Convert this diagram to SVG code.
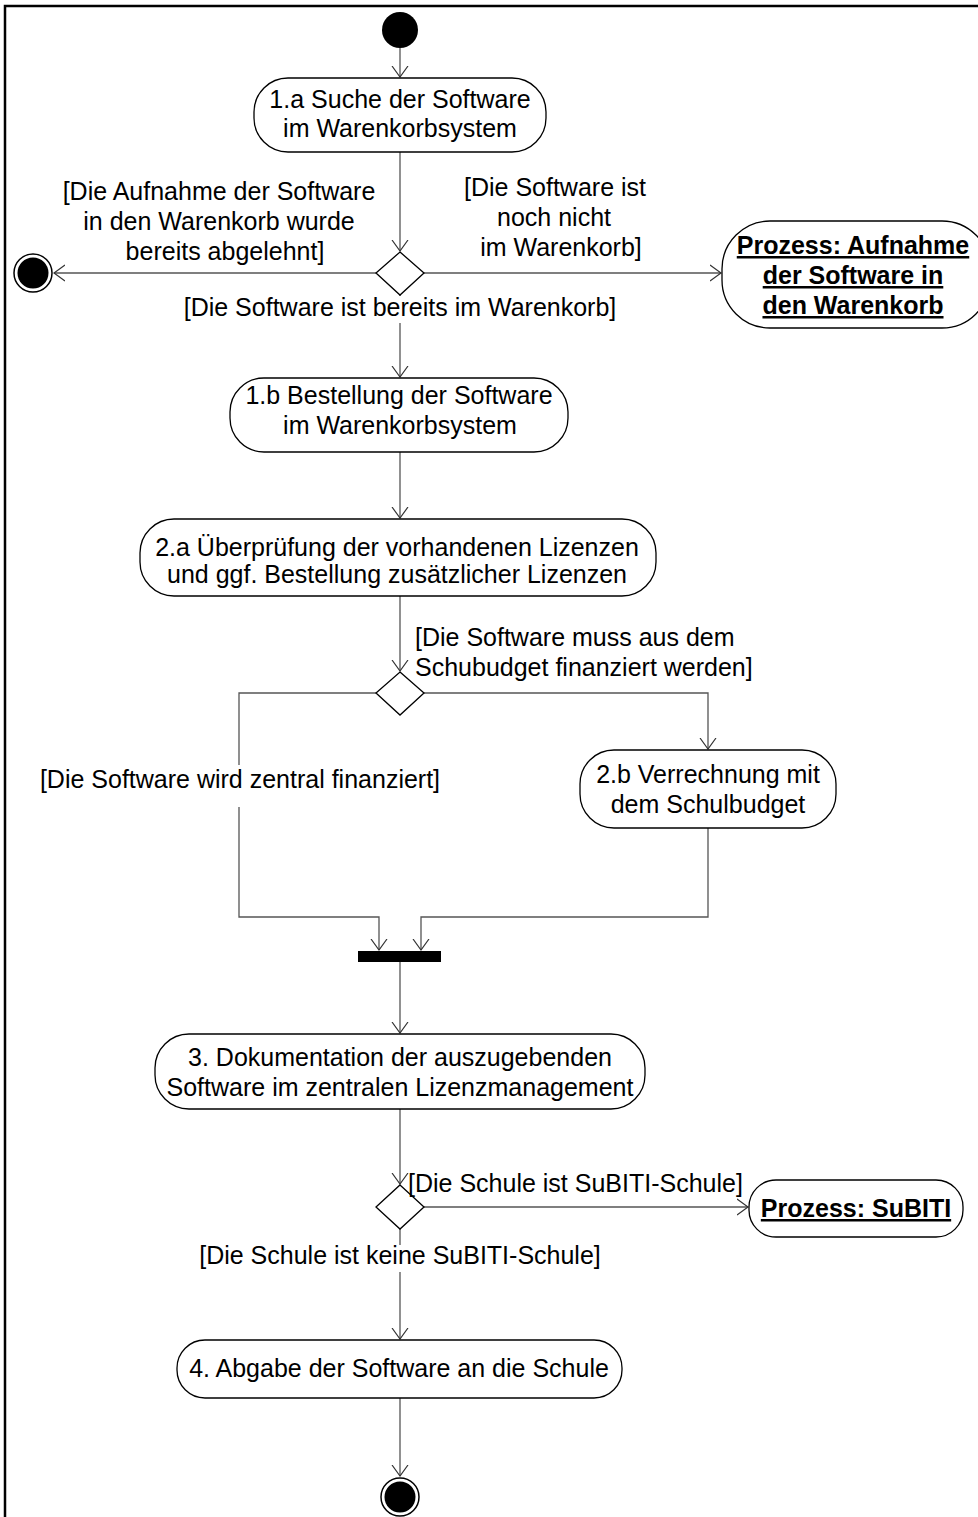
<svg xmlns="http://www.w3.org/2000/svg" width="978" height="1517" viewBox="0 0 978 1517">
<defs>
<marker id="arr" markerWidth="12" markerHeight="18" refX="11" refY="9" orient="auto" markerUnits="userSpaceOnUse">
<path d="M0,1 L11,9 L0,17" fill="none" stroke="#333" stroke-width="1.2"/>
</marker>
<style>
.t{font-family:"Liberation Sans",Arial,sans-serif;font-size:25px;fill:#000;text-anchor:middle}
.l{text-anchor:start}
.b{font-weight:bold;text-decoration:underline}
.n{fill:#fff;stroke:#000;stroke-width:1.3}
.bg{fill:#fff}
.c{fill:none;stroke:#555;stroke-width:1.3}
.ca{fill:none;stroke:#555;stroke-width:1.3;marker-end:url(#arr)}
</style>
</defs>
<rect width="978" height="1517" fill="#fff"/>
<path d="M5,1517 V6 H978" fill="none" stroke="#000" stroke-width="2.5"/>

<g id="connectors">
<line class="ca" x1="400" y1="48" x2="400" y2="77"/>
<line class="ca" x1="400" y1="152" x2="400" y2="251"/>
<line class="ca" x1="376" y1="273" x2="54" y2="273"/>
<line class="ca" x1="424" y1="273" x2="721" y2="273"/>
<line class="ca" x1="400" y1="295" x2="400" y2="377"/>
<line class="ca" x1="400" y1="452" x2="400" y2="518"/>
<line class="ca" x1="400" y1="596" x2="400" y2="671"/>
<polyline class="ca" points="376,693 239,693 239,917 379,917 379,950"/>
<polyline class="ca" points="424,693 708,693 708,749"/>
<polyline class="ca" points="708,828 708,917 421,917 421,950"/>
<line class="ca" x1="400" y1="962" x2="400" y2="1033"/>
<line class="ca" x1="400" y1="1109" x2="400" y2="1184"/>
<line class="ca" x1="424" y1="1207" x2="748" y2="1207"/>
<line class="ca" x1="400" y1="1229" x2="400" y2="1339"/>
<line class="ca" x1="400" y1="1398" x2="400" y2="1476"/>
</g>

<g id="start"><circle cx="400" cy="30" r="18" fill="#000"/></g>

<g id="n1a">
<rect class="n" x="254" y="78" width="292" height="74" rx="34"/>
<text class="t" x="400" y="108">1.a Suche der Software</text>
<text class="t" x="400" y="137">im Warenkorbsystem</text>
</g>

<g id="d1"><polygon class="n" points="400,252 424,273 400,295 376,273"/></g>

<g id="end1">
<circle cx="33" cy="273" r="19" fill="#fff" stroke="#000" stroke-width="1.5"/>
<circle cx="33" cy="273" r="15.5" fill="#000"/>
</g>

<g id="labels1">
<text class="t" x="219" y="200">[Die Aufnahme der Software</text>
<text class="t" x="219" y="230">in den Warenkorb wurde</text>
<text class="t" x="225" y="260">bereits abgelehnt]</text>
<text class="t" x="555" y="196">[Die Software ist</text>
<text class="t" x="554" y="226">noch nicht</text>
<text class="t" x="561" y="256">im Warenkorb]</text>
<rect class="bg" x="185" y="296" width="430" height="27"/>
<text class="t" x="400" y="316">[Die Software ist bereits im Warenkorb]</text>
</g>

<g id="pAufnahme">
<rect class="n" x="722" y="221" width="268" height="107" rx="48"/>
<text class="t b" x="853" y="254">Prozess: Aufnahme</text>
<text class="t b" x="853" y="284">der Software in</text>
<text class="t b" x="853" y="314">den Warenkorb</text>
</g>

<g id="n1b">
<rect class="n" x="230" y="378" width="338" height="74" rx="34"/>
<text class="t" x="399" y="404">1.b Bestellung der Software</text>
<text class="t" x="400" y="434">im Warenkorbsystem</text>
</g>

<g id="n2a">
<rect class="n" x="140" y="519" width="516" height="77" rx="34"/>
<text class="t" x="397" y="556">2.a Überprüfung der vorhandenen Lizenzen</text>
<text class="t" x="397" y="583">und ggf. Bestellung zusätzlicher Lizenzen</text>
</g>

<g id="d2"><polygon class="n" points="400,672 424,693 400,715 376,693"/></g>

<g id="labels2">
<text class="t l" x="415" y="646">[Die Software muss aus dem</text>
<text class="t l" x="415" y="676">Schubudget finanziert werden]</text>
<rect class="bg" x="38" y="765" width="404" height="42"/>
<text class="t" x="240" y="788">[Die Software wird zentral finanziert]</text>
</g>

<g id="n2b">
<rect class="n" x="580" y="750" width="256" height="78" rx="34"/>
<text class="t" x="708" y="783">2.b Verrechnung mit</text>
<text class="t" x="708" y="813">dem Schulbudget</text>
</g>

<g id="join"><rect x="358" y="951" width="83" height="11" fill="#000"/></g>

<g id="n3">
<rect class="n" x="155" y="1034" width="490" height="75" rx="34"/>
<text class="t" x="400" y="1066">3. Dokumentation der auszugebenden</text>
<text class="t" x="400" y="1096">Software im zentralen Lizenzmanagement</text>
</g>

<g id="d3"><polygon class="n" points="400,1185 424,1207 400,1229 376,1207"/></g>

<g id="labels3">
<text class="t l" x="408" y="1192">[Die Schule ist SuBITI-Schule]</text>
<rect class="bg" x="198" y="1245" width="404" height="27"/>
<text class="t" x="400" y="1264">[Die Schule ist keine SuBITI-Schule]</text>
</g>

<g id="pSubiti">
<rect class="n" x="749" y="1180" width="214" height="57" rx="27"/>
<text class="t b" x="856" y="1217">Prozess: SuBITI</text>
</g>

<g id="n4">
<rect class="n" x="177" y="1340" width="445" height="58" rx="28"/>
<text class="t" x="399" y="1377">4. Abgabe der Software an die Schule</text>
</g>

<g id="end2">
<circle cx="400" cy="1497" r="19" fill="#fff" stroke="#000" stroke-width="1.5"/>
<circle cx="400" cy="1497" r="15.5" fill="#000"/>
</g>
</svg>
